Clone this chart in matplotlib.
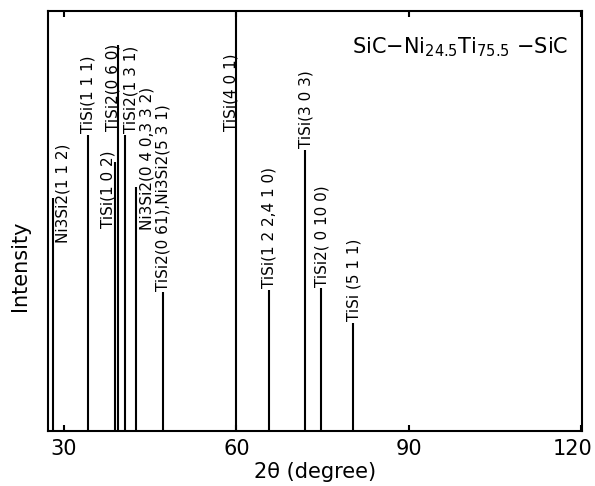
import matplotlib
matplotlib.use("Agg")
import matplotlib.pyplot as plt
import matplotlib.transforms as mtransforms

# peak positions (2theta, degree), relative heights and phase labels
two_theta = [28.1, 34.1, 38.9, 39.4, 40.6, 42.6, 47.3, 60.0, 65.7, 71.9, 74.7, 80.3]
heights = [0.555, 0.705, 0.64, 0.92, 0.705, 0.58, 0.33, 1.0, 0.336, 0.67, 0.34, 0.257]
labels = [
    "Ni3Si2(1 1 2)",
    "TiSi(1 1 1)",
    "TiSi(1 0 2)",
    "TiSi2(0 6 0)",
    "TiSi2(1 3 1)",
    "Ni3Si2(0 4 0,3 3 2)",
    "TiSi2(0 61),Ni3Si2(5 3 1)",
    "TiSi(4 0 1)",
    "TiSi(1 2 2,4 1 0)",
    "TiSi(3 0 3)",
    "TiSi2( 0 10 0)",
    "TiSi (5 1 1)",
]
x_ticks = [30, 60, 90, 120]
title = r"SiC$-$Ni$_{24.5}$Ti$_{75.5}$ $-$SiC"

# label offsets from each peak top: (dx in degree, dy in axes fraction)
label_offsets = [(1.8, -0.112), (0.1, 0.0), (-1.25, -0.16), (-0.9, -0.21),
                 (1.0, 0.0), (1.8, -0.106), (0.0, 0.0), (-0.9, -0.29),
                 (0.0, 0.0), (0.2, 0.0), (0.2, 0.0), (0.1, 0.0)]

fig = plt.figure(figsize=(5.95, 4.86), dpi=100)
ax = fig.add_axes([0.0815, 0.1132, 0.8965, 0.8642])

ax.vlines(two_theta, 0, heights, colors="black", lw=1.5)
for x, h, lab, (dx, dy) in zip(two_theta, heights, labels, label_offsets):
    ax.text(x + dx, h + dy + 0.004, lab, rotation=90, ha="center", va="bottom",
            fontsize=11)

ax.set_xlim(27.3, 120.1)
ax.set_ylim(0, 1)
ax.set_xticks(x_ticks)
ax.set_yticks([])
ax.tick_params(axis="x", direction="in", length=4.5, width=1.5, top=True,
               labelsize=15, pad=6)
for sp in ax.spines.values():
    sp.set_linewidth(1.5)

# keep the last tick label inside the figure
fig.canvas.draw()
last = ax.get_xticklabels()[-1]
last.set_transform(last.get_transform() +
                   mtransforms.ScaledTranslation(-9 / 100, 0, fig.dpi_scale_trans))

ax.set_xlabel("2\u03b8 (degree)", fontsize=15, labelpad=2)
fig.text(20 / 595, 1 - 266 / 486, "Intensity", rotation=90, ha="center",
         va="center", fontsize=15)
ax.text(0.974, 0.914, title, transform=ax.transAxes, ha="right", va="center",
        fontsize=15)

fig.savefig("out.png", dpi=100)
